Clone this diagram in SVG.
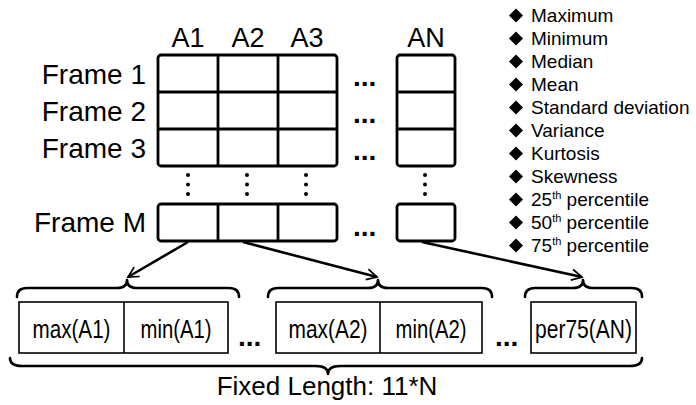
<svg xmlns="http://www.w3.org/2000/svg" width="696" height="405" viewBox="0 0 696 405">
  <style>
    .lbl { font-family: "Liberation Sans", Arial, sans-serif; fill: #000; }
    .frame { font-size: 28px; text-anchor: end; }
    .col { font-size: 27px; text-anchor: middle; }
    .ell { font-family: "Liberation Sans", Arial, sans-serif; font-weight: bold; font-size: 28px; fill: #000; }
    .cell { fill: #fff; stroke: #000; stroke-width: 2.8; }
    .grid { fill: none; stroke: #000; stroke-width: 2.8; }
    .vdot { fill: #000; }
    .stat { font-family: "Liberation Sans", Arial, sans-serif; font-size: 19px; fill: #000; }
    .sup { font-size: 11px; }
    .box { fill: #fff; stroke: #000; stroke-width: 1.6; }
    .feat { font-family: "Liberation Sans Narrow", "Liberation Sans", Arial, sans-serif; font-size: 26px; fill: #000; text-anchor: middle; }
    .brace { fill: none; stroke: #000; stroke-width: 2.6; stroke-linecap: round; stroke-linejoin: round; }
    .arrow { fill: none; stroke: #000; stroke-width: 2.6; marker-end: url(#head); }
  </style>
  <defs>
    <marker id="head" viewBox="0 0 12 12" refX="10.5" refY="6" markerWidth="5" markerHeight="5" markerUnits="strokeWidth" orient="auto">
      <path d="M1,1 L10.5,6 L1,11" fill="none" stroke="#000" stroke-width="1.6" stroke-linejoin="miter"/>
    </marker>
  </defs>
  <rect width="696" height="405" fill="#fff"/>

  <!-- Attribute matrix: rows are frames, columns are attributes -->
  <g id="matrix">
    <g id="col-labels">
      <text class="lbl col" x="188" y="47">A1</text>
      <text class="lbl col" x="248" y="47">A2</text>
      <text class="lbl col" x="307" y="47">A3</text>
      <text class="lbl col" x="426" y="47">AN</text>
    </g>
    <g id="row-labels">
      <text class="lbl frame" x="146" y="84">Frame 1</text>
      <text class="lbl frame" x="146" y="121">Frame 2</text>
      <text class="lbl frame" x="146" y="158">Frame 3</text>
      <text class="lbl frame" x="146" y="232">Frame M</text>
    </g>
    <g id="grid-main">
      <rect class="cell" x="158" y="55" width="179" height="111" rx="3"/>
      <path class="grid" d="M218,55 V166 M278,55 V166 M158,92 H337 M158,129 H337"/>
    </g>
    <g id="grid-an">
      <rect class="cell" x="397" y="55" width="58" height="111" rx="3"/>
      <path class="grid" d="M397,92 H455 M397,129 H455"/>
    </g>
    <g id="grid-last-row">
      <rect class="cell" x="158" y="204" width="179" height="37" rx="3"/>
      <path class="grid" d="M218,204 V241 M278,204 V241"/>
      <rect class="cell" x="397" y="204" width="58" height="37" rx="3"/>
    </g>
    <g id="row-ellipses">
      <text class="ell" x="353" y="86">...</text>
      <text class="ell" x="353" y="123">...</text>
      <text class="ell" x="353" y="160">...</text>
      <text class="ell" x="353" y="236">...</text>
    </g>
    <g id="col-ellipses">
      <circle class="vdot" cx="188" cy="175" r="2"/><circle class="vdot" cx="188" cy="184.5" r="2"/><circle class="vdot" cx="188" cy="194" r="2"/>
      <circle class="vdot" cx="247" cy="175" r="2"/><circle class="vdot" cx="247" cy="184.5" r="2"/><circle class="vdot" cx="247" cy="194" r="2"/>
      <circle class="vdot" cx="306" cy="175" r="2"/><circle class="vdot" cx="306" cy="184.5" r="2"/><circle class="vdot" cx="306" cy="194" r="2"/>
      <circle class="vdot" cx="425" cy="175" r="2"/><circle class="vdot" cx="425" cy="184.5" r="2"/><circle class="vdot" cx="425" cy="194" r="2"/>
    </g>
  </g>

  <!-- Statistics computed per attribute -->
  <g id="stats-list">
    <g id="bullets" fill="#000">
      <polygon points="516,8.5 523,15.5 516,22.5 509,15.5"/>
      <polygon points="516,31.5 523,38.5 516,45.5 509,38.5"/>
      <polygon points="516,54.5 523,61.5 516,68.5 509,61.5"/>
      <polygon points="516,77.5 523,84.5 516,91.5 509,84.5"/>
      <polygon points="516,100.5 523,107.5 516,114.5 509,107.5"/>
      <polygon points="516,123.5 523,130.5 516,137.5 509,130.5"/>
      <polygon points="516,146.5 523,153.5 516,160.5 509,153.5"/>
      <polygon points="516,169.5 523,176.5 516,183.5 509,176.5"/>
      <polygon points="516,192.5 523,199.5 516,206.5 509,199.5"/>
      <polygon points="516,215.5 523,222.5 516,229.5 509,222.5"/>
      <polygon points="516,238.5 523,245.5 516,252.5 509,245.5"/>
    </g>
    <text class="stat" x="531" y="22">Maximum</text>
    <text class="stat" x="531" y="45">Minimum</text>
    <text class="stat" x="531" y="68">Median</text>
    <text class="stat" x="531" y="91">Mean</text>
    <text class="stat" x="531" y="114">Standard deviation</text>
    <text class="stat" x="531" y="137">Variance</text>
    <text class="stat" x="531" y="160">Kurtosis</text>
    <text class="stat" x="531" y="183">Skewness</text>
    <text class="stat" x="531" y="206">25<tspan class="sup" dy="-7">th</tspan><tspan dy="7"> percentile</tspan></text>
    <text class="stat" x="531" y="229">50<tspan class="sup" dy="-7">th</tspan><tspan dy="7"> percentile</tspan></text>
    <text class="stat" x="531" y="252">75<tspan class="sup" dy="-7">th</tspan><tspan dy="7"> percentile</tspan></text>
  </g>

  <!-- Connectors from matrix columns to feature groups -->
  <g id="connectors">
    <path class="arrow" d="M188,242 L128,277"/>
    <path class="arrow" d="M243,242 L377,277"/>
    <path class="arrow" d="M422,242 L582,277"/>
  </g>

  <!-- Feature vector -->
  <g id="group-a1">
    <path class="brace" d="M17,297 Q17,288 27,288 H117 Q127,288 127,280 Q127,288 137,288 H229 Q239,288 239,297"/>
    <rect class="box" x="19" y="302" width="209" height="51"/>
    <line class="box" x1="124" y1="302" x2="124" y2="353"/>
    <text class="feat" x="71.5" y="338" textLength="78" lengthAdjust="spacingAndGlyphs">max(A1)</text>
    <text class="feat" x="176" y="338" textLength="71" lengthAdjust="spacingAndGlyphs">min(A1)</text>
  </g>
  <text class="ell" x="238" y="346">...</text>
  <g id="group-a2">
    <path class="brace" d="M268,297 Q268,288 278,288 H368 Q378,288 378,280 Q378,288 388,288 H482 Q492,288 492,297"/>
    <rect class="box" x="276" y="302" width="206" height="51"/>
    <line class="box" x1="380" y1="302" x2="380" y2="353"/>
    <text class="feat" x="328" y="338" textLength="79" lengthAdjust="spacingAndGlyphs">max(A2)</text>
    <text class="feat" x="431" y="338" textLength="71" lengthAdjust="spacingAndGlyphs">min(A2)</text>
  </g>
  <text class="ell" x="495" y="346">...</text>
  <g id="group-an">
    <path class="brace" d="M525,297 Q525,288 535,288 H573 Q583,288 583,280 Q583,288 593,288 H632 Q642,288 642,297"/>
    <rect class="box" x="531" y="302" width="105" height="51"/>
    <text class="feat" x="583.5" y="338" textLength="97" lengthAdjust="spacingAndGlyphs">per75(AN)</text>
  </g>

  <g id="total-length">
    <path class="brace" d="M10,358 Q10,366 22,366 H316 Q328,366 328,374 Q328,366 340,366 H630 Q642,366 642,358"/>
    <text class="lbl" x="327" y="395" font-size="26" text-anchor="middle">Fixed Length: 11*N</text>
  </g>
</svg>
